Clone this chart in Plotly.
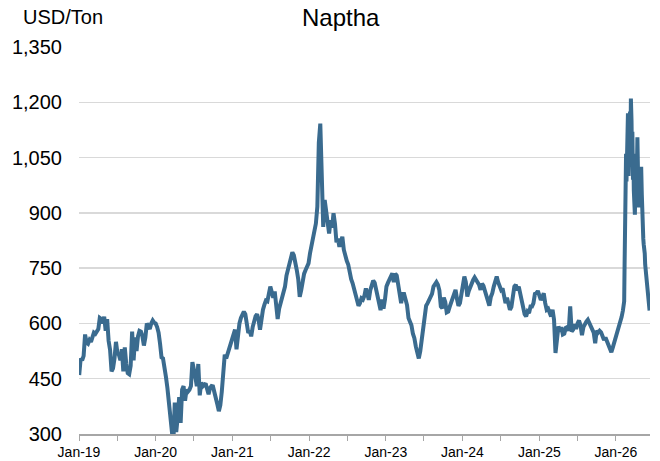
import pandas as pd
import plotly.graph_objects as go

# Weekly Naptha prices (USD/Ton)
weekly_start = "2019-01-02"
v2019 = [460, 505, 500, 512, 570, 548, 545, 555, 550, 565,
         575, 572, 578, 585, 615, 612, 600, 618, 580, 612,
         553, 528, 470, 478, 505, 550, 520, 515, 500, 530,
         470, 535, 490, 465, 462, 485, 578, 500, 562, 525,
         565, 580, 578, 565, 540, 562, 600, 592, 585, 600,
         608, 602]
v2020 = [600, 590, 575, 545, 508, 505, 485, 455, 425, 380,
         335, 285, 270, 385, 305, 345, 400, 330, 420, 430,
         390, 420, 415, 420, 430, 495, 480, 455, 430, 490,
         405, 440, 429, 432, 437, 422, 408, 425, 430, 429,
         415, 402, 380, 362, 378, 415, 480, 515, 505, 518,
         530, 546]
v2021 = [560, 574, 583, 530, 580, 600, 615, 628, 632, 625,
         595, 574, 580, 565, 590, 608, 620, 625, 610, 583,
         620, 637, 651, 662, 660, 690, 700, 685, 670, 687,
         646, 612, 640, 655, 668, 690, 700, 730, 745, 760,
         782, 793, 785, 770, 745, 720, 672, 690, 718, 735,
         745, 755]
v2022 = [763, 790, 810, 835, 844, 871, 917, 1090, 1142, 980,
         862, 935, 900, 860, 844, 880, 860, 899, 870, 820,
         830, 808, 820, 835, 800, 781, 770, 760, 736, 720,
         709, 695, 673, 658, 648, 655, 668, 665, 675, 695,
         682, 664, 690, 705, 716, 710, 690, 673, 645, 636,
         665, 640]
v2023 = [665, 700, 710, 718, 727, 736, 712, 735, 730, 700,
         665, 655, 680, 680, 665, 650, 615, 605, 595, 572,
         560, 537, 519, 505, 525, 560, 590, 625, 648, 655,
         664, 673, 680, 700, 709, 712, 705, 690, 646, 641,
         670, 658, 630, 632, 645, 658, 666, 682, 691, 666,
         648, 655]
v2024 = [675, 705, 727, 712, 673, 688, 700, 707, 718, 725,
         718, 709, 705, 691, 708, 702, 688, 675, 660, 648,
         672, 682, 700, 716, 727, 712, 698, 691, 695, 672,
         655, 670, 650, 637, 645, 672, 700, 705, 690, 700,
         680, 660, 635, 625, 619, 632, 628, 646, 646, 655,
         680, 682]
v2025 = [688, 675, 664, 670, 682, 655, 637, 640, 628, 619,
         637, 610, 520, 565, 592, 578, 590, 570, 572, 588,
         590, 580, 646, 578, 583, 598, 585, 600, 608, 595,
         568, 590, 600, 605, 610, 602, 590, 585, 575, 546,
         580, 575, 580, 576, 560, 555, 562, 552, 535, 528,
         522, 535]

# Most recent period, read at finer resolution
recent_dates = ["2025-12-24", "2025-12-31", "2026-01-07", "2026-01-14", "2026-01-21",
                "2026-01-28", "2026-02-03", "2026-02-09", "2026-02-11", "2026-02-13",
                "2026-02-16", "2026-02-18", "2026-02-20", "2026-02-23", "2026-02-25",
                "2026-02-27", "2026-03-02", "2026-03-04", "2026-03-06", "2026-03-09",
                "2026-03-11", "2026-03-13", "2026-03-16", "2026-03-18", "2026-03-20",
                "2026-03-23", "2026-03-25", "2026-03-27", "2026-03-30", "2026-04-01",
                "2026-04-03", "2026-04-06", "2026-04-08", "2026-04-10", "2026-04-13",
                "2026-04-15", "2026-04-17", "2026-04-20", "2026-04-22", "2026-04-24",
                "2026-04-27", "2026-04-29", "2026-05-01", "2026-05-04", "2026-05-06",
                "2026-05-08", "2026-05-11", "2026-05-13", "2026-05-15", "2026-05-18",
                "2026-05-20", "2026-05-22", "2026-05-25", "2026-05-27", "2026-05-29",
                "2026-06-01", "2026-06-03", "2026-06-05", "2026-06-08", "2026-06-10"]
recent_values = [548, 560, 575, 595, 608,
                 618, 635, 660, 760, 880,
                 990, 1060, 985, 1150, 1010,
                 1170, 1000, 1100, 1010, 1175,
                 1080, 1210, 1150, 1060, 1120,
                 990, 1050, 960, 900, 895,
                 960, 1010, 1060, 990, 1105,
                 1040, 960, 915, 945, 990,
                 950, 1010, 1025, 950, 880,
                 840, 830, 815, 808, 790,
                 760, 745, 740, 715, 700,
                 680, 672, 660, 648, 635]

y_ticks = [300, 450, 600, 750, 900, 1050, 1200, 1350]

weekly_values = v2019 + v2020 + v2021 + v2022 + v2023 + v2024 + v2025
weekly_dates = pd.date_range(weekly_start, periods=len(weekly_values), freq="7D")
dates = list(weekly_dates.strftime("%Y-%m-%d")) + recent_dates
values = weekly_values + recent_values

LINE = "#3a6b8f"
AXIS = "#a6a6a6"
GRID = "#d9d9d9"
FONT = "Liberation Sans, Arial, sans-serif"

fig = go.Figure(go.Scatter(
    x=dates, y=values, mode="lines",
    line=dict(color=LINE, width=4),
    hoverinfo="skip", showlegend=False,
))

fig.update_layout(
    width=660, height=461,
    margin=dict(l=79, r=10, t=47, b=27, autoexpand=False),
    paper_bgcolor="white", plot_bgcolor="white",
    font=dict(family=FONT, color="black"),
    showlegend=False,
    xaxis=dict(
        type="date", automargin=False,
        range=["2019-01-01", "2026-06-12"],
        tickformat="%b-%y", dtick="M12", tick0="2019-01-01",
        ticks="outside", ticklen=5, tickcolor=AXIS, tickwidth=1,
        showline=True, linecolor=AXIS, linewidth=1.5,
        showgrid=False, zeroline=False,
        tickfont=dict(family=FONT, size=14, color="black"),
        minor=dict(dtick="M6", ticks="outside", ticklen=5, tickcolor=AXIS, showgrid=False),
    ),
    yaxis=dict(
        range=[300, 1350], automargin=False,
        tickvals=y_ticks, tickformat=",",
        showgrid=True, gridcolor=GRID, gridwidth=1.5,
        zeroline=False, showline=False, ticks="",
        tickfont=dict(family=FONT, size=20, color="black"),
        ticklabelstandoff=16,
    ),
    annotations=[
        dict(text="Naptha", xref="paper", yref="paper", x=(341 - 79) / 571, y=1 + 30 / 387,
             xanchor="center", yanchor="middle", showarrow=False,
             font=dict(family=FONT, size=24, color="black")),
        dict(text="USD/Ton", xref="paper", yref="paper", x=(21 - 79) / 571, y=1 + 30 / 387,
             xanchor="left", yanchor="middle", showarrow=False,
             font=dict(family=FONT, size=20, color="black")),
    ],
)

# Remove the page's default body margin so the figure sits at the window's top-left corner
fig.write_html("out.html", config={"displayModeBar": False, "staticPlot": True},
               post_script="document.body.style.margin='0';")
